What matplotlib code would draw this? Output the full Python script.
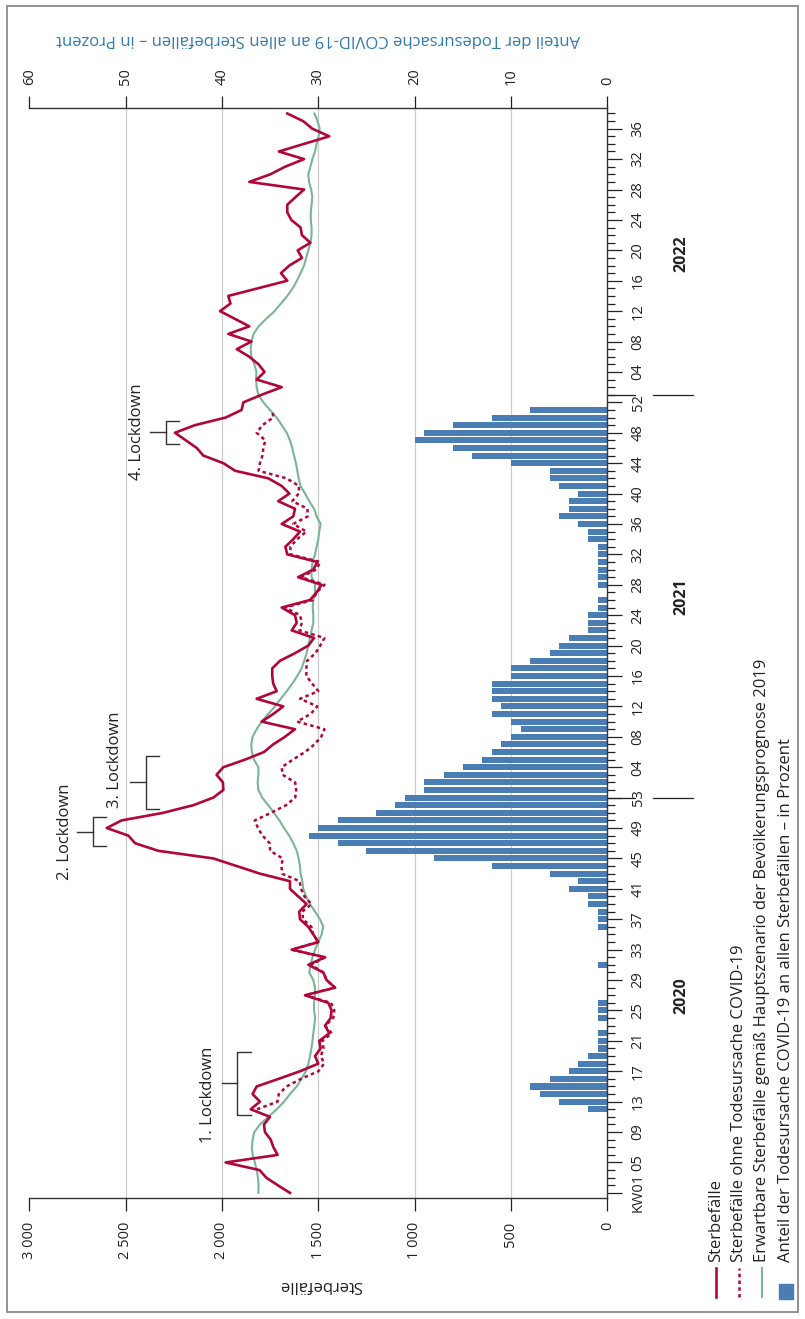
import numpy as np
import matplotlib
matplotlib.use("Agg")
import matplotlib.pyplot as plt
from matplotlib.lines import Line2D
from matplotlib.patches import Rectangle
from matplotlib.ticker import FixedLocator

plt.rcParams['font.family'] = ['Open Sans', 'DejaVu Sans']

nan = np.nan

## weekly data, 2020 KW01 .. 2022 KW38
jahre = ['2020', '2021', '2022']
wochen_je_jahr = [53, 52, 38]

sterbefaelle = [
    1647, 1710, 1770, 1805, 1981, 1711, 1733, 1747, 1777, 1782,
    1751, 1851, 1803, 1841, 1820, 1706, 1595, 1500, 1517, 1488,
    1495, 1443, 1465, 1436, 1431, 1448, 1569, 1413, 1457, 1474,
    1552, 1465, 1638, 1500, 1526, 1552, 1595, 1599, 1561, 1604,
    1647, 1647, 1803, 1924, 2045, 2330, 2451, 2486, 2598, 2521,
    2305, 2149, 2045, 1993, 1995, 2028, 1993, 1880, 1782, 1734,
    1673, 1621, 1794, 1734, 1682, 1820, 1716, 1734, 1739, 1739,
    1699, 1621, 1552, 1522, 1638, 1612, 1621, 1690, 1543, 1509,
    1483, 1605, 1526, 1505, 1661, 1671, 1630, 1595, 1690, 1630,
    1621, 1708, 1650, 1690, 1759, 1932, 1993, 2097, 2131, 2187,
    2244, 2140, 1981, 1898, 1889, 1794, 1690, 1820, 1779, 1810,
    1858, 1923, 1847, 1967, 1858, 1934, 2010, 1956, 1967, 1814,
    1661, 1694, 1650, 1585, 1607, 1541, 1585, 1592, 1640, 1661,
    1661, 1618, 1574, 1858, 1749, 1672, 1574, 1705, 1574, 1443,
    1531, 1579, 1661]

ohne_covid = [
    nan, nan, nan, nan, nan, nan, nan, nan, nan, nan,
    nan, 1818, 1712, 1705, 1665, 1590, 1500, 1470, 1487, 1473,
    1480, 1430, 1465, 1422, 1417, 1434, 1569, 1413, 1457, 1474,
    1537, 1465, 1638, 1500, 1526, 1536, 1579, 1583, 1535, 1572,
    1590, 1597, 1688, 1691, 1685, 1750, 1752, 1790, 1813, 1830,
    1745, 1668, 1620, 1615, 1620, 1685, 1690, 1632, 1569, 1520,
    1485, 1468, 1610, 1540, 1505, 1595, 1500, 1532, 1562, 1562,
    1558, 1515, 1490, 1468, 1598, 1585, 1595, 1673, 1528, 1509,
    1468, 1590, 1511, 1490, 1644, 1645, 1610, 1562, 1630, 1555,
    1556, 1635, 1602, 1600, 1665, 1810, 1803, 1790, 1785, 1775,
    1820, 1790, 1734, 1738, nan, nan, nan, nan, nan, nan,
    nan, nan, nan, nan, nan, nan, nan, nan, nan, nan,
    nan, nan, nan, nan, nan, nan, nan, nan, nan, nan,
    nan, nan, nan, nan, nan, nan, nan, nan, nan, nan,
    nan, nan, nan]

erwartbar = [
    1811, 1810, 1813, 1820, 1829, 1841, 1845, 1841, 1832, 1803,
    1760, 1716, 1678, 1647, 1612, 1587, 1564, 1552, 1543, 1536,
    1530, 1526, 1521, 1516, 1522, 1522, 1517, 1517, 1526, 1547,
    1540, 1530, 1517, 1500, 1483, 1474, 1491, 1517, 1543, 1564,
    1578, 1583, 1592, 1595, 1602, 1612, 1630, 1651, 1678, 1702,
    1730, 1760, 1791, 1811, 1815, 1811, 1811, 1834, 1845, 1848,
    1841, 1820, 1794, 1760, 1725, 1695, 1664, 1635, 1609, 1587,
    1573, 1561, 1552, 1543, 1535, 1526, 1526, 1529, 1526, 1517,
    1517, 1535, 1535, 1530, 1517, 1509, 1500, 1495, 1488, 1509,
    1522, 1547, 1569, 1592, 1602, 1609, 1616, 1626, 1635, 1647,
    1664, 1690, 1716, 1751, 1785, 1811, 1820, 1823, 1821, 1832,
    1847, 1851, 1847, 1836, 1810, 1770, 1727, 1694, 1661, 1633,
    1611, 1592, 1574, 1563, 1552, 1541, 1535, 1535, 1539, 1539,
    1535, 1531, 1537, 1548, 1552, 1541, 1531, 1517, 1509, 1498,
    1493, 1504, 1520]

# Anteil COVID-19 in Prozent, 2020 KW01 .. 2021 KW52
anteil_covid = [
    0, 0, 0, 0, 0, 0, 0, 0, 0, 0, 0,
    2, 5, 7, 8, 6, 4, 3, 2, 1, 1, 1, 0, 1, 1, 1,
    0, 0, 0, 0, 1, 0, 0, 0, 0, 1, 1, 1, 2, 2, 4, 3, 6,
    12, 18, 25, 28, 31, 30, 28, 24, 22, 21,
    19, 19, 17, 15, 13, 12, 11, 10, 9, 10, 12, 11, 12, 12, 12,
    10, 10, 8, 6, 5, 4, 2, 2, 2, 1, 1, 0, 1, 1, 1, 1, 1, 1,
    2, 2, 3, 5, 4, 4, 3, 5, 6, 6, 10, 14, 16, 20, 19, 16, 12, 8, nan]

# labelled calendar weeks per year
kw_beschriftet = [
    [1, 5, 9, 13, 17, 21, 25, 29, 33, 37, 41, 45, 49, 53],
    [4, 8, 12, 16, 20, 24, 28, 32, 36, 40, 44, 48, 52],
    [4, 8, 12, 16, 20, 24, 28, 32, 36],
]

werte_ticks = [0, 500, 1000, 1500, 2000, 2500, 3000]
werte_labels = ['0', '500', '1 000', '1 500', '2 000', '2 500', '3 000']
prozent_ticks = [0, 10, 20, 30, 40, 50, 60]

# (label, text x, text y, bracket x, serif x, stub x, y from, y to, stub y)
lockdowns = [
    ('1. Lockdown', 2074, 12.9, 1922, 1849, 2000, 10.3, 18.6, 14.4),
    ('2. Lockdown', 2814, 47.5, 2669, 2600, 2750, 45.6, 49.4, 47.5),
    ('3. Lockdown', 2555, 57.0, 2394, 2327, 2478, 50.5, 57.5, 54.0),
    ('4. Lockdown', 2442, 100.1, 2290, 2221, 2371, 98.5, 101.5, 100.1),
]

ROT = '#b1063a'
GRUEN = '#7ab594'
BLAU = '#4a7db4'
TITELBLAU = '#2f7bb0'
FS = 10.5      # tick labels
FT = 12        # titles, legend, notes

W, H = 805, 1319
fig = plt.figure(figsize=(W / 100, H / 100), dpi=100)

ax_l, ax_r, ax_t, ax_b = 29.3, 607.3, 108.4, 1197.6
ax = fig.add_axes([ax_l / W, 1 - ax_b / H, (ax_r - ax_l) / W, (ax_b - ax_t) / H])
ax2 = ax.twiny()
ax.set_zorder(ax2.get_zorder() + 1)
ax.patch.set_visible(False)

n = sum(wochen_je_jahr)
idx = np.arange(n)
offsets = np.cumsum([0] + wochen_je_jahr[:-1])

## bars on the percent axis
ax2.barh(idx[:len(anteil_covid)], anteil_covid, height=0.8, color=BLAU, zorder=2)
ax2.set_xlim(60, 0)
ax2.set_xticks(prozent_ticks)
ax2.set_xticklabels([str(p) for p in prozent_ticks], rotation=90, fontsize=FS)
ax2.tick_params(axis='x', which='major', length=8.6, width=0.9, pad=8, colors='#222222')
ax2.grid(axis='x', color='#cccccc', linewidth=0.9, zorder=0)
ax2.set_axisbelow(True)
gl = ax2.get_xgridlines()
gl[0].set_visible(False)
gl[-1].set_visible(False)
for s in ['left', 'right', 'bottom']:
    ax2.spines[s].set_visible(False)
ax2.spines['top'].set_color('#333333')
ax2.spines['top'].set_linewidth(1.0)

## lines
ax.plot(erwartbar, idx, color=GRUEN, lw=1.5, zorder=3)
ax.plot(ohne_covid, idx, color=ROT, lw=1.8, linestyle=(0, (1.4, 1.3)), zorder=4)
ax.plot(sterbefaelle, idx, color=ROT, lw=1.9, zorder=5)

ax.set_xlim(3000, 0)
ax.set_ylim(-0.62, 142.67)

ax.set_xticks(werte_ticks)
ax.set_xticklabels(werte_labels, rotation=90, fontsize=FS)
ax.tick_params(axis='x', which='major', length=9.4, width=0.9, pad=8, colors='#222222')

# week axis
major_pos, major_lab = [], []
for j, kws in enumerate(kw_beschriftet):
    for kw in kws:
        major_pos.append(offsets[j] + kw - 1)
        major_lab.append('KW%02d' % kw if (j == 0 and kw == 1) else '%02d' % kw)
ax.yaxis.tick_right()
ax.set_yticks(major_pos)
ax.set_yticklabels(major_lab, rotation=90, fontsize=FS)
ax.yaxis.set_minor_locator(FixedLocator(idx))
ax.tick_params(axis='y', which='major', length=10.8, width=0.9, pad=6, colors='#222222')
ax.tick_params(axis='y', which='minor', length=5.8, width=0.9, colors='#222222')
for lbl in ax.get_yticklabels():
    lbl.set_va('center')
    lbl.set_bbox(dict(facecolor='white', edgecolor='none', pad=0.5))

for s in ['top', 'left']:
    ax.spines[s].set_visible(False)
for s in ['right', 'bottom']:
    ax.spines[s].set_color('#333333')
    ax.spines[s].set_linewidth(1.0)

# year separators and labels
ytr = ax.get_yaxis_transform()
for sep in [offsets[1] - 1, offsets[2]]:
    ax.plot([1.0, 1.048], [sep, sep], color='#222222', lw=0.9, transform=ytr, clip_on=False)
    ax.plot([1.079, 1.148], [sep, sep], color='#222222', lw=0.9, transform=ytr, clip_on=False)
for j, jahr in enumerate(jahre):
    mitte = offsets[j] + (wochen_je_jahr[j] - 1) / 2
    ax.text(1.128, mitte, jahr, transform=ytr, rotation=90, ha='center', va='center',
            fontsize=11.5, fontweight='bold', color='#222222')

## lockdown brackets
for lab, tx, ty, bx, sx, stx, y0, y1, sy in lockdowns:
    ax.plot([sx, bx, bx, sx], [y0, y0, y1, y1], color='#333333', lw=1.0, clip_on=False, zorder=6)
    ax.plot([stx, bx], [sy, sy], color='#333333', lw=1.0, clip_on=False, zorder=6)
    ax.text(tx, ty, lab, rotation=90, ha='center', va='center', fontsize=FT, color='#222222')

## axis titles
fig.text(318 / W, 1 - 39 / H, 'Anteil der Todesursache COVID-19 an allen Sterbefällen – in Prozent',
         rotation=180, ha='center', va='center', fontsize=FT, color=TITELBLAU)
fig.text(321 / W, 1 - 1285 / H, 'Sterbefälle', rotation=180, ha='center', va='center',
         fontsize=FT, color='#222222')

## legend (vertical)
leg_x = [716, 739, 762, 786]
leg_text = ['Sterbefälle', 'Sterbefälle ohne Todesursache COVID-19',
            'Erwartbare Sterbefälle gemäß Hauptszenario der Bevölkerungsprognose 2019',
            'Anteil der Todesursache COVID-19 an allen Sterbefällen – in Prozent']
for k, (lx, lt) in enumerate(zip(leg_x, leg_text)):
    fx = lx / W
    if k == 0:
        fig.add_artist(Line2D([fx, fx], [1 - 1297 / H, 1 - 1268 / H], color=ROT, lw=1.9))
    elif k == 1:
        fig.add_artist(Line2D([fx, fx], [1 - 1297 / H, 1 - 1268 / H], color=ROT, lw=1.8,
                              linestyle=(0, (1.4, 1.3))))
    elif k == 2:
        fig.add_artist(Line2D([fx, fx], [1 - 1297 / H, 1 - 1268 / H], color=GRUEN, lw=1.5))
    else:
        fig.add_artist(Rectangle(((lx - 7) / W, 1 - 1299 / H), 14 / W, 15 / H,
                                 transform=fig.transFigure, color=BLAU))
    fig.text(fx, 1 - 1262 / H, lt, rotation=90, ha='center', va='bottom', fontsize=FT,
             color='#222222')

## outer frame
fig.add_artist(Rectangle((7 / W, 1 - 1312 / H), (798 - 7) / W, (1312 - 6) / H,
                         transform=fig.transFigure, fill=False, edgecolor='#8a8a8a', lw=1.3))

fig.savefig('out.png', dpi=100)
